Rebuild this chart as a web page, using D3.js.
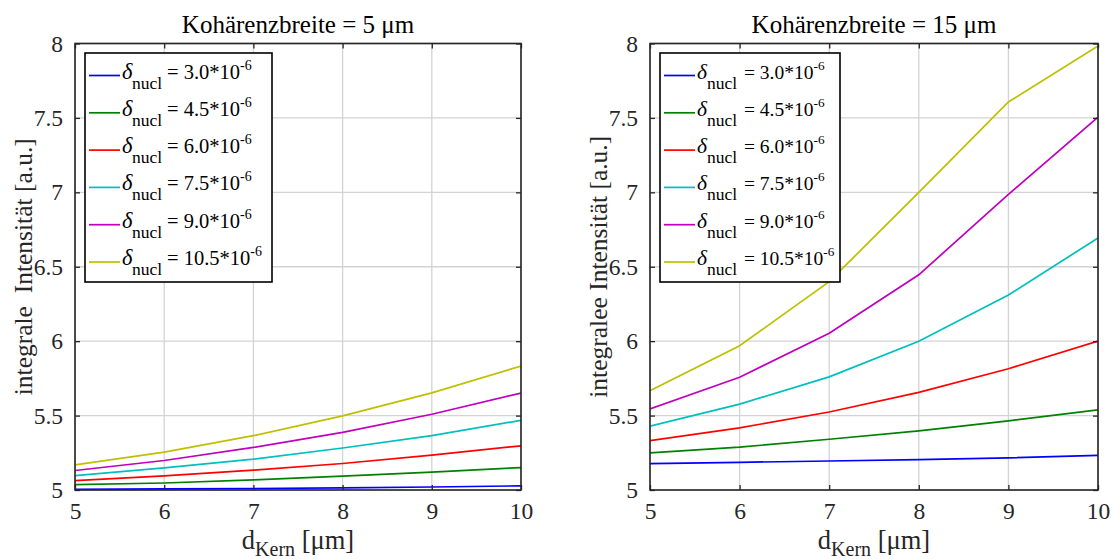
<!DOCTYPE html>
<html>
<head>
<meta charset="utf-8">
<script src="https://cdn.jsdelivr.net/npm/d3@7"></script>
<style>
  html, body { margin: 0; padding: 0; background: #fff; }
  svg { display: block; }
  text { font-family: "Liberation Serif", "Times New Roman", serif; }
</style>
</head>
<body>
<svg id="chart" width="1113" height="559"></svg>
<script>
// ---------- data ----------
const dKern = [5, 6, 7, 8, 9, 10];
const xTicks = [5, 6, 7, 8, 9, 10];
const yTicks = [5, 5.5, 6, 6.5, 7, 7.5, 8];
const deltaLabels = ["3.0", "4.5", "6.0", "7.5", "9.0", "10.5"];
const leftTitle = "Kohärenzbreite = 5 μm";
const rightTitle = "Kohärenzbreite = 15 μm";
const leftYLabel = "integrale  Intensität [a.u.]";
const rightYLabel = "integralee Intensität [a.u.]";

// Kohärenzbreite = 5 µm
const k5_delta3_0  = [5.005, 5.007, 5.010, 5.014, 5.020, 5.028];
const k5_delta4_5  = [5.036, 5.047, 5.068, 5.093, 5.120, 5.151];
const k5_delta6_0  = [5.063, 5.095, 5.133, 5.178, 5.234, 5.297];
const k5_delta7_5  = [5.097, 5.149, 5.207, 5.282, 5.365, 5.468];
const k5_delta9_0  = [5.131, 5.198, 5.286, 5.387, 5.509, 5.651];
const k5_delta10_5 = [5.169, 5.255, 5.365, 5.498, 5.653, 5.833];

// Kohärenzbreite = 15 µm
const k15_delta3_0  = [5.177, 5.186, 5.195, 5.204, 5.216, 5.232];
const k15_delta4_5  = [5.250, 5.288, 5.341, 5.397, 5.465, 5.538];
const k15_delta6_0  = [5.332, 5.418, 5.524, 5.656, 5.815, 6.000];
const k15_delta7_5  = [5.429, 5.577, 5.760, 6.000, 6.310, 6.693];
const k15_delta9_0  = [5.545, 5.758, 6.053, 6.446, 6.986, 7.505];
const k15_delta10_5 = [5.667, 5.969, 6.400, 7.000, 7.607, 7.984];

const seriesColors = ["#0000ff", "#008000", "#ff0000", "#00bfbf", "#bf00bf", "#bfbf00"];

// ---------- drawing ----------
const svg = d3.select("#chart");
const axisColor = "#262626";

function drawPanel(cfg) {
  const x = d3.scaleLinear().domain([5, 10]).range([cfg.left, cfg.right]);
  const y = d3.scaleLinear().domain([5, 8]).range([cfg.bottom, cfg.top]);
  const g = svg.append("g");
  const clipId = "clip" + cfg.id;
  svg.append("defs").append("clipPath").attr("id", clipId)
    .append("rect").attr("x", cfg.left).attr("y", cfg.top)
    .attr("width", cfg.right - cfg.left).attr("height", cfg.bottom - cfg.top);

  // grid
  const grid = g.append("g");
  grid.selectAll("line.gx").data(xTicks).join("line")
    .attr("x1", d => x(d)).attr("x2", d => x(d))
    .attr("y1", cfg.top).attr("y2", cfg.bottom)
    .attr("stroke", "#d3d3d3").attr("stroke-width", 1.3);
  grid.selectAll("line.gy").data(yTicks).join("line")
    .attr("y1", d => y(d)).attr("y2", d => y(d))
    .attr("x1", cfg.left).attr("x2", cfg.right)
    .attr("stroke", "#d3d3d3").attr("stroke-width", 1.3);

  // lines
  const line = d3.line().x((d, i) => x(dKern[i])).y(d => y(d));
  g.append("g").attr("clip-path", `url(#${clipId})`)
    .selectAll("path").data(cfg.series).join("path")
    .attr("d", d => line(d))
    .attr("fill", "none")
    .attr("stroke", (d, i) => seriesColors[i])
    .attr("stroke-width", 1.7);

  // axes (inward ticks, all four sides)
  const tl = 5;
  const axB = d3.axisBottom(x).tickValues(xTicks).tickFormat(d3.format("d")).tickSizeInner(-tl).tickSizeOuter(0).tickPadding(12);
  const axT = d3.axisTop(x).tickValues(xTicks).tickFormat("").tickSizeInner(-tl).tickSizeOuter(0);
  const axL = d3.axisLeft(y).tickValues(yTicks).tickFormat(d => d3.format("")(d)).tickSizeInner(-tl).tickSizeOuter(0).tickPadding(12);
  const axR = d3.axisRight(y).tickValues(yTicks).tickFormat("").tickSizeInner(-tl).tickSizeOuter(0);

  const styleAxis = sel => {
    sel.select(".domain").remove();
    sel.selectAll(".tick line").attr("stroke", axisColor).attr("stroke-width", 1.3);
    sel.selectAll(".tick text").attr("fill", axisColor).attr("font-size", 23.5)
      .attr("font-family", '"Liberation Serif", serif');
  };
  g.append("g").attr("transform", `translate(0,${cfg.bottom})`).call(axB).call(styleAxis)
    .selectAll(".tick text").attr("dy", "0.71em");
  g.append("g").attr("transform", `translate(0,${cfg.top})`).call(axT).call(styleAxis);
  g.append("g").attr("transform", `translate(${cfg.left},0)`).call(axL).call(styleAxis);
  g.append("g").attr("transform", `translate(${cfg.right},0)`).call(axR).call(styleAxis);

  g.append("rect")
    .attr("x", cfg.left).attr("y", cfg.top)
    .attr("width", cfg.right - cfg.left).attr("height", cfg.bottom - cfg.top)
    .attr("fill", "none").attr("stroke", axisColor).attr("stroke-width", 1.6);

  // title
  g.append("text")
    .attr("x", (cfg.left + cfg.right) / 2).attr("y", 33)
    .attr("text-anchor", "middle").attr("font-size", 25).attr("fill", "#000")
    .text(cfg.title);

  // x label
  const xl = g.append("text")
    .attr("x", (cfg.left + cfg.right) / 2).attr("y", 549)
    .attr("text-anchor", "middle").attr("font-size", 26.5).attr("fill", axisColor);
  xl.append("tspan").text("d");
  xl.append("tspan").attr("font-size", 20).attr("dy", 7).text("Kern");
  xl.append("tspan").attr("dy", -7).text(" [μm]");

  // y label
  g.append("text")
    .attr("transform", `translate(${cfg.left - 43},${(cfg.top + cfg.bottom) / 2}) rotate(-90)`)
    .attr("text-anchor", "middle").attr("font-size", 25.5).attr("fill", axisColor)
    .style("white-space", "pre")
    .text(cfg.ylabel);

  // legend
  const lx = cfg.left + 10, ly = cfg.top + 9.5;
  const fs = cfg.legendFont;
  const lg = g.append("g");
  lg.append("rect").attr("x", lx).attr("y", ly)
    .attr("width", cfg.legendWidth).attr("height", 229)
    .attr("fill", "#fff").attr("stroke", "#000").attr("stroke-width", 1.6);
  deltaLabels.forEach((lab, i) => {
    const cy = ly + 22.5 + i * 37.3;
    lg.append("line").attr("x1", lx + 4).attr("x2", lx + 35)
      .attr("y1", cy).attr("y2", cy)
      .attr("stroke", seriesColors[i]).attr("stroke-width", 1.7);
    const t = lg.append("text").attr("x", lx + 37).attr("y", cy + 3)
      .attr("fill", "#000").attr("font-size", fs).style("white-space", "pre");
    t.append("tspan").attr("font-style", "italic").attr("font-size", fs + 2).text("δ");
    t.append("tspan").attr("font-size", 17.5).attr("x", lx + 47).attr("dy", 10).text("nucl");
    t.append("tspan").attr("x", lx + cfg.eqOffset).attr("dy", -10).text("= " + lab + "*10");
    t.append("tspan").attr("font-size", fs * 0.68).attr("dy", -9).text("-6");
  });
}

drawPanel({
  id: "L", left: 75, right: 521, top: 43.5, bottom: 490,
  title: leftTitle, ylabel: leftYLabel, legendWidth: 187, legendFont: 20.5, eqOffset: 82,
  series: [k5_delta3_0, k5_delta4_5, k5_delta6_0, k5_delta7_5, k5_delta9_0, k5_delta10_5]
});
drawPanel({
  id: "R", left: 650, right: 1098, top: 43.5, bottom: 490,
  title: rightTitle, ylabel: rightYLabel, legendWidth: 180, legendFont: 19.5, eqOffset: 84,
  series: [k15_delta3_0, k15_delta4_5, k15_delta6_0, k15_delta7_5, k15_delta9_0, k15_delta10_5]
});
</script>
</body>
</html>
